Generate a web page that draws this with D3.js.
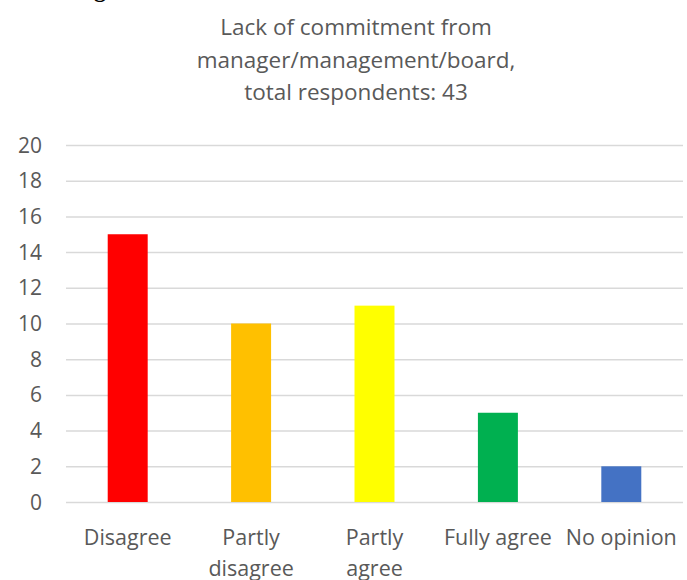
<!DOCTYPE html>
<html>
<head>
<meta charset="utf-8">
<script src="https://cdn.jsdelivr.net/npm/d3@7"></script>
<style>
  html, body { margin: 0; padding: 0; background: #fff; }
  svg { display: block; }
</style>
</head>
<body>
<svg id="chart" width="687" height="580"></svg>
<script>
// Survey answers for one barrier statement
const categories = ["Disagree", "Partly disagree", "Partly agree", "Fully agree", "No opinion"];
const labelLines = [["Disagree"], ["Partly", "disagree"], ["Partly", "agree"], ["Fully agree"], ["No opinion"]];
const counts = [15, 10, 11, 5, 2];
const barColors = ["#ff0000", "#ffc000", "#ffff00", "#00b050", "#4472c4"];
const yTicks = [0, 2, 4, 6, 8, 10, 12, 14, 16, 18, 20];
const titleLines = ["Lack of commitment from", "manager/management/board,", "total respondents: 43"];

const svg = d3.select("#chart");
const font = "'Open Sans', Lato, sans-serif";
const textColor = "#595959";

const x = d3.scaleBand()
  .domain(categories)
  .range([66, 683])
  .paddingInner(0.676)
  .paddingOuter(0.338);

const y = d3.scaleLinear().domain([0, 20]).range([502, 145]);

// Fragment of the heading above the chart, clipped by the page edge
svg.append("text")
  .attr("x", 94).attr("y", -3)
  .attr("font-family", "'Liberation Serif', serif")
  .attr("font-weight", "bold")
  .attr("font-size", 24)
  .attr("fill", "#000")
  .text("g");

// Title
svg.append("g").selectAll("text")
  .data(titleLines)
  .join("text")
  .attr("x", 356)
  .attr("y", (d, i) => 35 + i * 32.5)
  .attr("text-anchor", "middle")
  .attr("font-family", font)
  .attr("font-size", 22.5)
  .attr("fill", textColor)
  .text(d => d);

// Gridlines
const grid = d3.axisLeft(y).tickValues(yTicks).tickSize(-(683 - 66)).tickFormat("");
svg.append("g")
  .attr("transform", "translate(66,0)")
  .call(grid)
  .call(g => g.select(".domain").remove())
  .call(g => g.selectAll("line").attr("stroke", "#d9d9d9").attr("stroke-width", 1.5));

// Y tick labels
svg.append("g").selectAll("text")
  .data(yTicks)
  .join("text")
  .attr("x", 42)
  .attr("y", d => y(d))
  .attr("dy", "0.36em")
  .attr("text-anchor", "end")
  .attr("font-family", font)
  .attr("font-size", 21)
  .attr("fill", textColor)
  .text(d => d);

// Bars
svg.append("g").selectAll("rect")
  .data(categories)
  .join("rect")
  .attr("x", d => x(d))
  .attr("width", x.bandwidth())
  .attr("y", (d, i) => y(counts[i]))
  .attr("height", (d, i) => y(0) - y(counts[i]))
  .attr("fill", (d, i) => barColors[i]);

// Category labels
const lab = svg.append("g").selectAll("text")
  .data(categories)
  .join("text")
  .attr("text-anchor", "middle")
  .attr("font-family", font)
  .attr("font-size", 21.5)
  .attr("fill", textColor);
lab.each(function (d, i) {
  const t = d3.select(this);
  labelLines[i].forEach((line, j) => {
    t.append("tspan")
      .attr("x", x(d) + x.bandwidth() / 2)
      .attr("y", 545 + j * 31)
      .text(line);
  });
});
</script>
</body>
</html>
